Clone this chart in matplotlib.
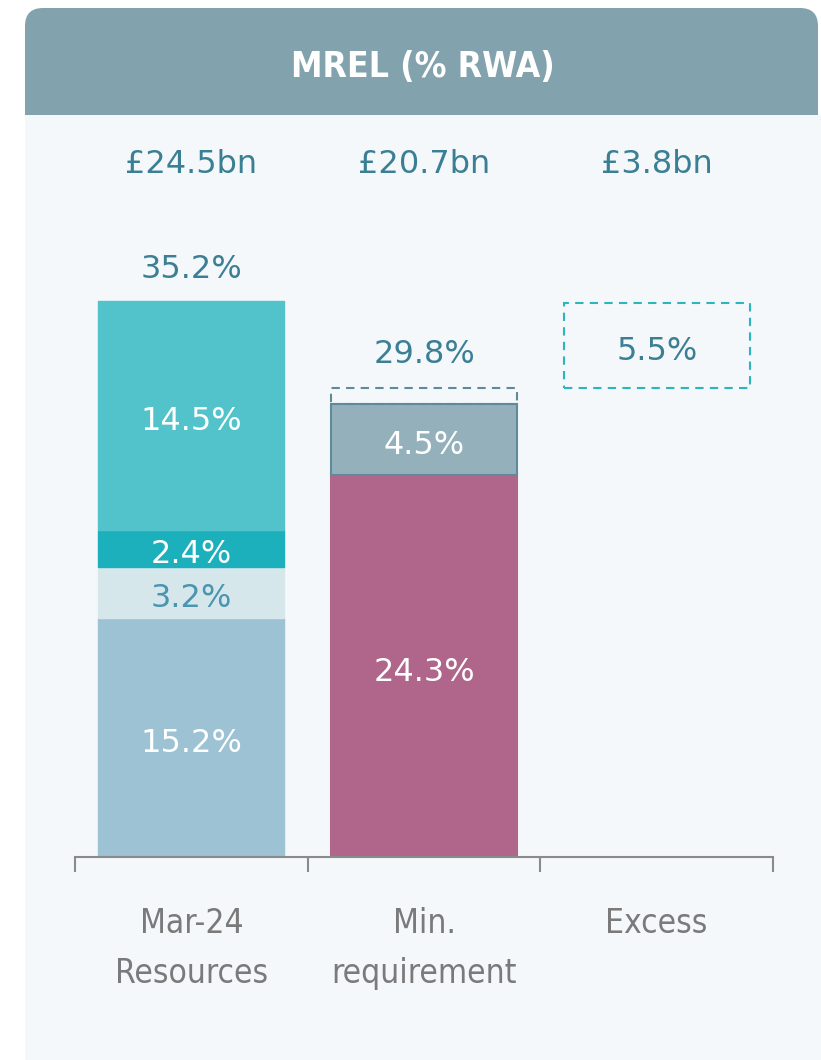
import numpy as np
import matplotlib.pyplot as plt
from matplotlib.patches import FancyBboxPatch, Rectangle
from matplotlib.transforms import Affine2D

# data
categories = ['Mar-24\nResources', 'Min.\nrequirement', 'Excess']
bn_labels = ['£24.5bn', '£20.7bn', '£3.8bn']
resources_parts = [15.2, 3.2, 2.4, 14.5]
resources_total = 35.2
min_parts = [24.3, 4.5]
min_buffer = 1.0
min_total = 29.8
excess_value = 5.5

res_colors = ['#9CC2D4', '#D6E7EC', '#1BB0BB', '#52C3CA']
res_text = ['white', '#4A95B0', 'white', 'white']
min_colors = ['#B0668A', '#94B1BB']
min_edges = ['#B0668A', '#5F8A98']

W, H = 821, 1060
num_font = ['DejaVu Sans']
cond_font = ['DejaVu Sans']
label_col = '#3A7F94'
seg_kw = dict(textcoords='offset points', xytext=(0, -4.5), ha='center', va='center',
              fontsize=23, family=num_font)

fig = plt.figure(figsize=(W / 100, H / 100), dpi=100, facecolor='white')
px = Affine2D().scale(1 / W, 1 / H) + fig.transFigure

# panel background + header
body = Rectangle((25, 0), 810, H - 115, facecolor='#F4F8FB', edgecolor='none',
                 transform=px, zorder=-5)
header = FancyBboxPatch((25, H - 140), 793, 132, boxstyle='round,pad=0,rounding_size=18',
                        facecolor='#82A2AD', edgecolor='none', transform=px, zorder=-6)
fig.add_artist(header)
fig.add_artist(body)
fig.text(423 / W, 1 - 67 / H, 'MREL (% RWA)', ha='center', va='center', color='white',
         fontsize=25.5, fontweight='bold', family=cond_font, fontstretch='condensed')

ax = fig.add_axes([75 / W, 203 / H, 698 / W, 727 / H])
ax.set_facecolor('none')
ax.set_xlim(-0.5, 2.5)
ax.set_ylim(0, 727 / (554 / 35.2))

x = np.arange(len(categories))
w = 0.8

# Mar-24 resources stack
bottom = 0
for v, c, tc in zip(resources_parts, res_colors, res_text):
    ax.bar(x[0], v, w, bottom=bottom, color=c, edgecolor=c, lw=1)
    ax.annotate(f'{v:.1f}%', (x[0], bottom + v / 2), color=tc, **seg_kw)
    bottom += v
ax.annotate(f'{resources_total:.1f}%', (x[0], resources_total), xytext=(0, 24),
            textcoords='offset points', ha='center', va='center', color=label_col,
            fontsize=23, family=num_font)

# min requirement stack
bottom = 0
for v, c, ec in zip(min_parts, min_colors, min_edges):
    ax.bar(x[1], v, w, bottom=bottom, color=c, edgecolor=ec, lw=1.5)
    ax.annotate(f'{v:.1f}%', (x[1], bottom + v / 2), color='white', **seg_kw)
    bottom += v
ax.bar(x[1], min_buffer, w, bottom=bottom, facecolor='none', edgecolor='#5F8A98',
       lw=1.5, ls=(0, (4, 3)))
ax.annotate(f'{min_total:.1f}%', (x[1], min_total), xytext=(0, 24),
            textcoords='offset points', ha='center', va='center', color=label_col,
            fontsize=23, family=num_font)

# excess floating box
ax.bar(x[2], resources_total - min_total, w, bottom=min_total, facecolor='none',
       edgecolor='#2BB5C0', lw=1.5, ls=(0, (4, 3)))
ax.annotate(f'{excess_value:.1f}%', (x[2], (resources_total + min_total) / 2),
            color=label_col, **seg_kw)

# bn amounts
for xi, s in zip(x, bn_labels):
    ax.text(xi, 44.0, s, ha='center', va='center', color=label_col, fontsize=23,
            family=num_font)

# axis
for s in ['top', 'left', 'right']:
    ax.spines[s].set_visible(False)
ax.spines['bottom'].set_color('#8A8A8A')
ax.spines['bottom'].set_linewidth(1.5)
ax.set_yticks([])
ax.set_xticks([-0.5, 0.5, 1.5, 2.5])
ax.set_xticklabels([])
ax.tick_params(axis='x', which='major', length=11, width=1.5, color='#8A8A8A')
ax.set_xticks(x, minor=True)
ax.set_xticklabels(categories, minor=True, fontsize=24, color='#7A7A7A',
                   family=cond_font, fontstretch='condensed', linespacing=1.65)
ax.tick_params(axis='x', which='minor', length=0, pad=36)
for t in ax.get_xticklabels(minor=True):
    t.set_va('top')

fig.savefig('out.png', dpi=100)
